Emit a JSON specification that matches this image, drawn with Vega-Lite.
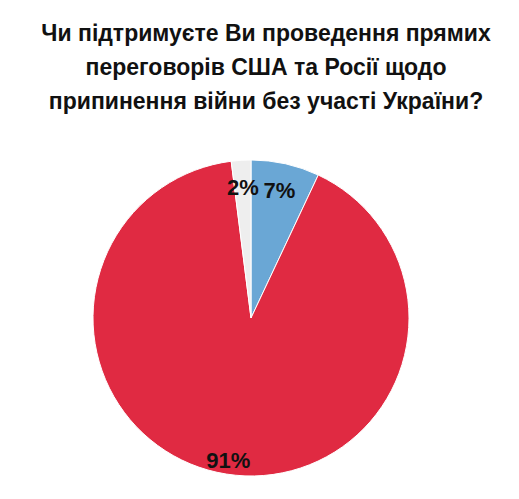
{
  "$schema": "https://vega.github.io/schema/vega-lite/v6.json",
  "width": 316,
  "height": 316,
  "autosize": "none",
  "padding": {"left": 93, "top": 160, "right": 110, "bottom": 23},
  "background": "white",
  "view": {"stroke": null},
  "title": {
    "text": ["Чи підтримуєте Ви проведення прямих", "переговорів США та Росії щодо", "припинення війни без участі України?"],
    "font": "Liberation Sans",
    "fontSize": 23,
    "fontWeight": "bold",
    "color": "#111111",
    "lineHeight": 34,
    "anchor": "middle",
    "dx": 15,
    "offset": 44
  },
  "data": {"values": [
    {"answer": "Так", "pct": 7, "label": "7%", "n": 1},
    {"answer": "Ні", "pct": 91, "label": "91%", "n": 2},
    {"answer": "Важко сказати", "pct": 2, "label": "2%", "n": 3}
  ]},
  "encoding": {
    "theta": {"field": "pct", "type": "quantitative", "stack": true},
    "order": {"field": "n", "type": "quantitative"}
  },
  "layer": [
    {
      "mark": {"type": "arc", "stroke": "white", "strokeWidth": 1},
      "encoding": {
        "color": {"field": "answer", "type": "nominal", "legend": null,
          "scale": {"domain": ["Так", "Ні", "Важко сказати"], "range": ["#6aa7d5", "#e02a42", "#eeeeee"]}}
      }
    },
    {
      "mark": {"type": "text", "radius": 130, "font": "Liberation Sans", "fontSize": 22, "fontWeight": "bold", "color": "#111111"},
      "encoding": {"text": {"condition": {"test": "datum.n != 2", "field": "label"}, "value": ""}}
    },
    {
      "mark": {"type": "text", "radius": 145, "font": "Liberation Sans", "fontSize": 22, "fontWeight": "bold", "color": "#111111"},
      "encoding": {"text": {"condition": {"test": "datum.n == 2", "field": "label"}, "value": ""}}
    }
  ]
}
